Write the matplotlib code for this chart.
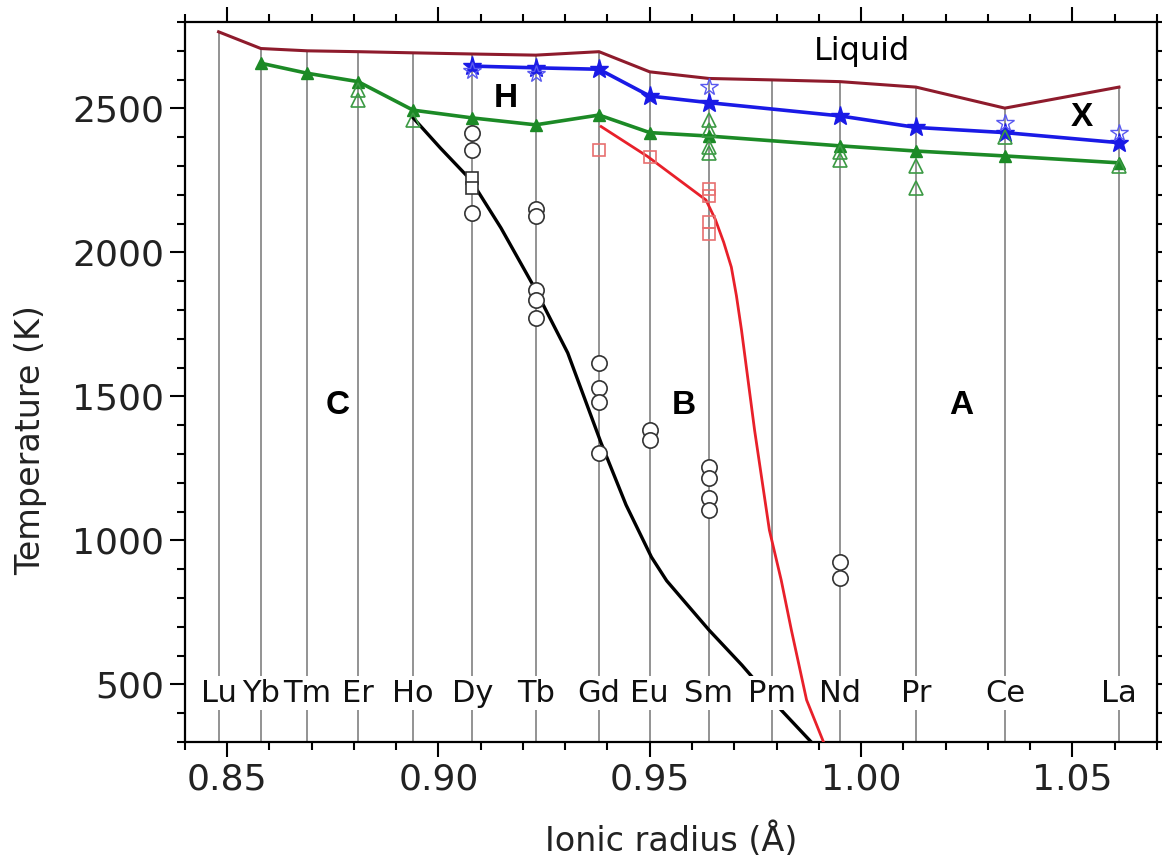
import numpy as np
import matplotlib.pyplot as plt
from matplotlib.ticker import MultipleLocator

# rare-earth elements and their ionic radii (Å)
elements = ['Lu', 'Yb', 'Tm', 'Er', 'Ho', 'Dy', 'Tb', 'Gd', 'Eu', 'Sm', 'Pm', 'Nd', 'Pr', 'Ce', 'La']
radius = [0.848, 0.858, 0.869, 0.881, 0.894, 0.908, 0.923, 0.938, 0.950, 0.964, 0.979, 0.995, 1.013, 1.034, 1.061]

# liquidus (K)
liquid_T = [2766, 2708, 2700, 2697, 2693, 2689, 2685, 2697, 2627, 2604, 2599, 2593, 2574, 2501, 2574]

# H -> X transition (blue)
hx_r = [0.908, 0.923, 0.938, 0.950, 0.964, 0.995, 1.013, 1.034, 1.061]
hx_T = [2647, 2641, 2636, 2543, 2520, 2474, 2434, 2416, 2381]

# C/B/A -> H transition (green)
ch_r = [0.858, 0.869, 0.881, 0.894, 0.908, 0.923, 0.938, 0.950, 0.964, 0.995, 1.013, 1.034, 1.061]
ch_T = [2657, 2622, 2593, 2494, 2467, 2443, 2477, 2416, 2404, 2370, 2352, 2335, 2311]

# C -> B boundary (black)
cb_r = [0.8938, 0.9005, 0.9077, 0.9148, 0.9226, 0.9306, 0.9385, 0.9444, 0.9504, 0.9540,
        0.9575, 0.9640, 0.9718, 0.9800, 0.9882]
cb_T = [2471, 2362, 2251, 2085, 1881, 1651, 1338, 1123, 942, 860, 800, 689, 567, 428, 300]

# B -> A boundary (red)
ba_r = [0.9385, 0.9495, 0.9633, 0.9655, 0.9675, 0.9693, 0.9705, 0.9717, 0.9748, 0.9783,
        0.9811, 0.9835, 0.9871, 0.9911]
ba_T = [2437, 2333, 2182, 2115, 2035, 1949, 1850, 1731, 1383, 1036, 862, 689, 446, 300]

# measured points (open symbols)
circ_r = [0.908, 0.908, 0.908, 0.923, 0.923, 0.923, 0.923, 0.923, 0.938, 0.938, 0.938, 0.938,
          0.950, 0.950, 0.964, 0.964, 0.964, 0.964, 0.995, 0.995]
circ_T = [2413, 2356, 2137, 2150, 2125, 1869, 1835, 1772, 1616, 1530, 1480, 1303,
          1383, 1349, 1255, 1217, 1147, 1105, 925, 870]
sq_r = [0.908, 0.908]
sq_T = [2258, 2224]
redsq_r = [0.938, 0.950, 0.964, 0.964, 0.964, 0.964]
redsq_T = [2356, 2333, 2220, 2195, 2105, 2065]
tri_r = [0.881, 0.881, 0.894, 0.964, 0.964, 0.964, 0.964, 0.995, 0.995, 1.013, 1.013, 1.034, 1.061]
tri_T = [2565, 2530, 2460, 2460, 2425, 2365, 2344, 2350, 2320, 2300, 2224, 2400, 2300]
star_r = [0.908, 0.923, 0.964, 1.034, 1.061]
star_T = [2630, 2620, 2574, 2448, 2416]

c_liq = '#8e1b2c'
c_blue = '#1a1ae6'
c_green = '#1c8a26'
c_red = '#e8202a'

fig = plt.figure(figsize=(11.62, 8.67), dpi=100)
ax = fig.add_axes([0.159, 0.1442, 0.8367, 0.8304])

ax.vlines(radius, 300, liquid_T, colors='#808080', lw=1.2, zorder=1)

ax.plot(radius, liquid_T, color=c_liq, lw=2.2, zorder=3)
ax.plot(cb_r, cb_T, color='black', lw=2.4, zorder=3)
ax.plot(ba_r, ba_T, color=c_red, lw=2.0, zorder=3)
ax.plot(ch_r, ch_T, color=c_green, lw=2.6, marker='^', ms=9, zorder=4)
ax.plot(hx_r, hx_T, color=c_blue, lw=2.6, marker='*', ms=14, zorder=4)

ax.plot(circ_r, circ_T, ls='none', marker='o', ms=11, mfc='white', mec='#333333', mew=1.2, zorder=5)
ax.plot(sq_r, sq_T, ls='none', marker='s', ms=9, mfc='white', mec='#333333', mew=1.2, zorder=5)
ax.plot(redsq_r, redsq_T, ls='none', marker='s', ms=8, mfc='none', mec='#e87070', mew=1.2, zorder=5)
ax.plot(tri_r, tri_T, ls='none', marker='^', ms=10, mfc='none', mec='#3c9a44', mew=1.2, zorder=5)
ax.plot(star_r, star_T, ls='none', marker='*', ms=13, mfc='none', mec='#5a5af0', mew=1.0, zorder=5)

for el, r in zip(elements, radius):
    ax.text(r, 470, el, ha='center', va='center', fontsize=22, family='DejaVu Sans', color='#111111',
            bbox=dict(facecolor='white', edgecolor='none', pad=1.5), zorder=6)

bold = dict(fontsize=24, fontweight='bold', family='Liberation Sans', ha='center', va='center', zorder=6)
ax.text(0.9160, 2536, 'H', **bold)
ax.text(1.0522, 2467, 'X', **bold)
ax.text(0.8762, 1470, 'C', **bold)
ax.text(0.9581, 1470, 'B', **bold)
ax.text(1.0237, 1470, 'A', **bold)
ax.text(1.0001, 2696, 'Liquid', fontsize=23, family='DejaVu Sans', ha='center', va='center', zorder=6)

ax.set_xlim(0.84, 1.07)
ax.set_ylim(300, 2800)
ax.xaxis.set_major_locator(MultipleLocator(0.05))
ax.xaxis.set_minor_locator(MultipleLocator(0.01))
ax.yaxis.set_major_locator(MultipleLocator(500))
ax.yaxis.set_minor_locator(MultipleLocator(100))
ax.set_xticks([0.85, 0.90, 0.95, 1.00, 1.05])
ax.set_xticklabels(['0.85', '0.90', '0.95', '1.00', '1.05'])
ax.set_yticks([500, 1000, 1500, 2000, 2500])

ax.tick_params(which='both', direction='out', top=True, right=True, width=1.5)
ax.tick_params(which='major', length=11, labelsize=26, pad=4)
ax.tick_params(which='minor', length=6)
for lab in ax.get_xticklabels() + ax.get_yticklabels():
    lab.set_family('DejaVu Sans')
    lab.set_color('#222222')
for sp in ax.spines.values():
    sp.set_linewidth(1.6)

fig.text(0.578, 0.031, 'Ionic radius (Å)', fontsize=24, family='DejaVu Sans', ha='center', va='center', color='#222222')
fig.text(0.026, 0.4925, 'Temperature (K)', fontsize=24, family='DejaVu Sans', rotation=90,
         ha='center', va='center', color='#222222')

fig.savefig('out.png', dpi=100)
